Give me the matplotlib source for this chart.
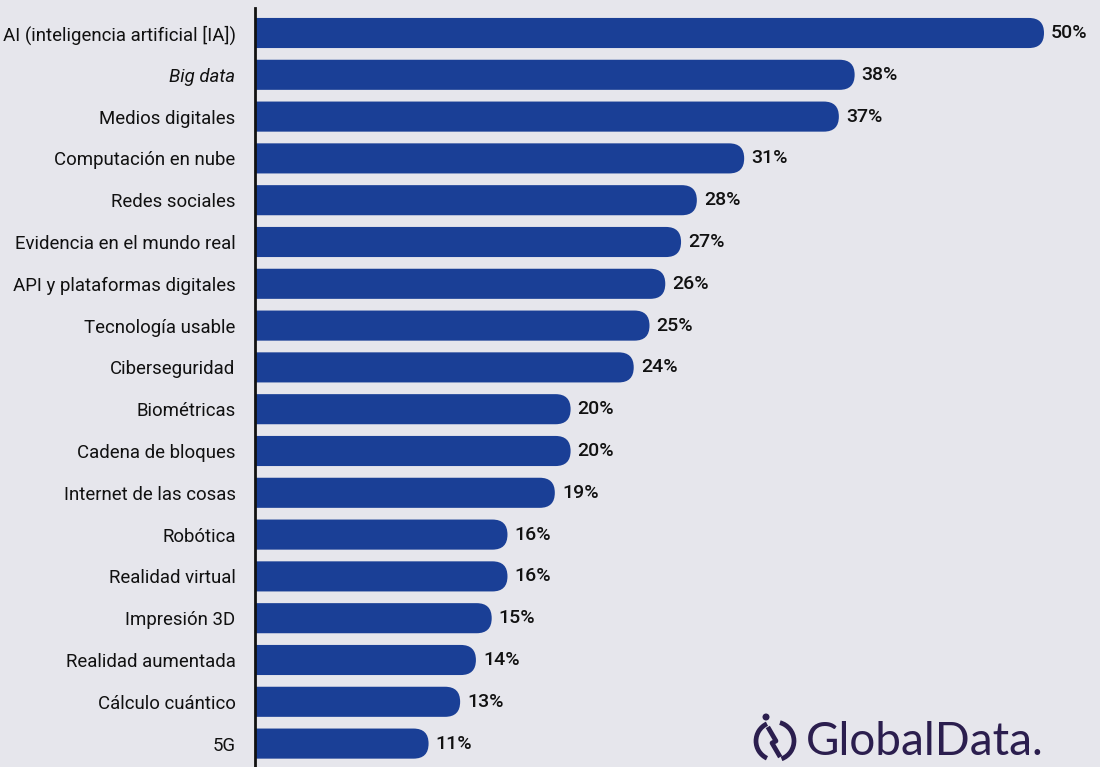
import matplotlib.pyplot as plt
from matplotlib.patches import FancyBboxPatch, Arc, Circle
from matplotlib.lines import Line2D

categorias = ["AI (inteligencia artificial [IA])", "Big data", "Medios digitales",
              "Computación en nube", "Redes sociales", "Evidencia en el mundo real",
              "API y plataformas digitales", "Tecnología usable", "Ciberseguridad",
              "Biométricas", "Cadena de bloques", "Internet de las cosas", "Robótica",
              "Realidad virtual", "Impresión 3D", "Realidad aumentada",
              "Cálculo cuántico", "5G"]
valores = [50, 38, 37, 31, 28, 27, 26, 25, 24, 20, 20, 19, 16, 16, 15, 14, 13, 11]

fondo = "#e6e6ec"
azul = "#1a3f96"
plt.rcParams["font.family"] = ["Roboto", "DejaVu Sans"]

fig = plt.figure(figsize=(11, 7.67), dpi=100, facecolor=fondo)
ax = fig.add_axes([255/1100, 0, 845/1100, 759/767])
ax.set_facecolor(fondo)

xmax = 50 * 845 / 789
ax.set_xlim(0, xmax)
ax.set_ylim(17.56, -0.598)

pos = list(range(len(categorias)))
barras = ax.barh(pos, valores, height=0.72, color=azul)

# reemplazar cada barra por una con el extremo redondeado
px_x = 845 / xmax
px_y = 759 / (17.56 + 0.598)
for b in barras:
    x0, y0 = b.get_x(), b.get_y()
    w, h = b.get_width(), b.get_height()
    b.set_visible(False)
    r = (h / 2) * px_y / px_x
    p = FancyBboxPatch((x0 - 3, y0), w + 3, h,
                       boxstyle=f"round,pad=0,rounding_size={r}",
                       mutation_aspect=px_x / px_y,
                       fc=azul, ec="none", clip_on=True)
    ax.add_patch(p)

for i, v in enumerate(valores):
    ax.text(v + 0.45, i, f"{v}%", va="center", ha="left", fontsize=14,
            fontweight="medium", color="#111111")

ax.set_yticks(pos)
ax.set_yticklabels(categorias, fontsize=13.4, color="#111111")
ax.get_yticklabels()[1].set_style("italic")
ax.tick_params(axis="y", length=0, pad=14)
ax.set_xticks([])
for s in ["top", "right", "bottom"]:
    ax.spines[s].set_visible(False)
ax.spines["left"].set_linewidth(2)
ax.spines["left"].set_color("#111111")

# logo GlobalData
morado = "#2b1e4e"
lx = fig.add_axes([745/1100, 0, 60/1100, 60/767])
lx.set_xlim(0, 60)
lx.set_ylim(0, 60)
lx.axis("off")
lx.add_patch(Arc((30, 26), 38, 38, theta1=115, theta2=245, lw=3.4, color=morado))
lx.add_patch(Arc((30, 26), 38, 38, theta1=-70, theta2=75, lw=3.4, color=morado))
lx.add_line(Line2D([24, 31, 27, 34], [38, 26, 24, 12], lw=3.4, color=morado))
lx.add_patch(Circle((21, 50), 2.8, color=morado))
fig.text(806/1100, 25/767, "GlobalData.", fontsize=33, color=morado,
         family=["Lato", "DejaVu Sans"], va="center", ha="left")

fig.savefig("out.png", dpi=100, facecolor=fondo)
